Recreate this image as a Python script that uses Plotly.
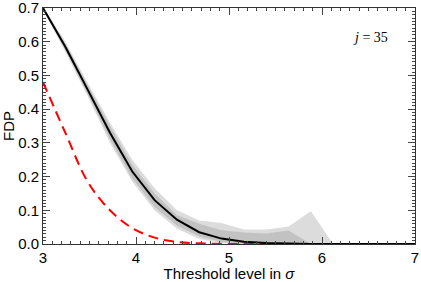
import plotly.graph_objects as go

thresholds = [3.00, 3.24, 3.48, 3.72, 3.96, 4.20, 4.44, 4.68, 4.92, 5.16, 5.40,
              5.64, 5.88, 6.12, 6.36, 6.60, 6.84, 7.00]
fdp_median = [0.700, 0.585, 0.458, 0.330, 0.215, 0.130, 0.072, 0.035, 0.016, 0.007,
              0.003, 0.001, 0.0, 0.0, 0.0, 0.0, 0.0, 0.0]
fdp_expected = [0.480, 0.330, 0.185, 0.100, 0.047, 0.019, 0.006, 0.002, 0.0005, 0.0,
                0.0, 0.0, 0.0, 0.0, 0.0, 0.0, 0.0, 0.0]
outer_hi = [0.705, 0.600, 0.478, 0.360, 0.250, 0.165, 0.100, 0.070, 0.062, 0.043,
            0.043, 0.052, 0.097, 0.0, 0.0, 0.0, 0.0, 0.0]
outer_lo = [0.695, 0.570, 0.438, 0.300, 0.185, 0.100, 0.045, 0.015, 0.003, 0.0,
            0.0, 0.0, 0.0, 0.0, 0.0, 0.0, 0.0, 0.0]
inner_hi = [0.702, 0.595, 0.471, 0.350, 0.235, 0.150, 0.085, 0.060, 0.041, 0.034,
            0.031, 0.040, 0.0, 0.0, 0.0, 0.0, 0.0, 0.0]
inner_lo = [0.698, 0.575, 0.445, 0.310, 0.195, 0.110, 0.055, 0.022, 0.006, 0.001,
            0.0, 0.0, 0.0, 0.0, 0.0, 0.0, 0.0, 0.0]

x_ticks = [3, 4, 5, 6, 7]
y_ticks = [0.0, 0.1, 0.2, 0.3, 0.4, 0.5, 0.6, 0.7]
y_tick_labels = ["0.0", "0.1", "0.2", "0.3", "0.4", "0.5", "0.6", "0.7"]

x_range = [3, 7]
y_range = [0, 0.7]

fig = go.Figure()

def band(lo, hi, color):
    fig.add_trace(go.Scatter(x=thresholds, y=lo, mode="lines", line=dict(width=0),
                             hoverinfo="skip", showlegend=False))
    fig.add_trace(go.Scatter(x=thresholds, y=hi, mode="lines", line=dict(width=0),
                             fill="tonexty", fillcolor=color, hoverinfo="skip",
                             showlegend=False))

band(outer_lo, outer_hi, "#dcdcdc")
band(inner_lo, inner_hi, "#c2c2c2")

fig.add_trace(go.Scatter(x=thresholds, y=fdp_expected, mode="lines",
                         line=dict(color="#ff0000", width=2, dash="10px,6px", shape="spline"),
                         showlegend=False))
fig.add_trace(go.Scatter(x=thresholds, y=fdp_median, mode="lines",
                         line=dict(color="black", width=2),
                         showlegend=False))
# invisible trace to carry the mirrored (top/right) axes
fig.add_trace(go.Scatter(x=x_range, y=y_range, mode="lines", line=dict(width=0),
                         xaxis="x2", yaxis="y2", hoverinfo="skip", showlegend=False))

fig.add_annotation(x=6.52, y=0.612, text="<i>j</i> = 35", showarrow=False,
                   font=dict(family="Liberation Serif", size=14, color="black"))

tickfont = dict(family="Liberation Sans", size=15, color="black")
axis_common = dict(showline=True, linecolor="#333333", linewidth=1,
                   ticks="inside", tickcolor="#444444", tickwidth=1, showgrid=False,
                   zeroline=False, automargin=False, tickfont=tickfont,
                   ticklabeloverflow="allow")

fig.update_layout(
    xaxis=dict(range=x_range, tickvals=x_ticks, ticklen=7,
               minor=dict(dtick=0.1, ticks="inside", ticklen=3, tickcolor="#444444"),
               title=dict(text="Threshold level in <i>σ</i>", standoff=2,
                          font=dict(family="Liberation Sans", size=15, color="black")),
               **axis_common),
    yaxis=dict(range=y_range, tickvals=y_ticks, ticktext=y_tick_labels, ticklen=7,
               minor=dict(dtick=0.01, ticks="inside", ticklen=3, tickcolor="#444444"),
               title=dict(text="FDP", standoff=4,
                          font=dict(family="Liberation Sans", size=15, color="black")),
               **axis_common),
    xaxis2=dict(range=x_range, tickvals=x_ticks, ticklen=7, overlaying="x", side="top",
                showticklabels=False, anchor="y2",
                minor=dict(dtick=0.1, ticks="inside", ticklen=3, tickcolor="#444444"),
                **axis_common),
    yaxis2=dict(range=y_range, tickvals=y_ticks, ticklen=7, overlaying="y", side="right",
                showticklabels=False, anchor="x2",
                minor=dict(dtick=0.01, ticks="inside", ticklen=3, tickcolor="#444444"),
                **axis_common),
    width=421, height=282, margin=dict(l=43, r=6, t=8, b=38),
    plot_bgcolor="white", paper_bgcolor="white", showlegend=False,
)

fig.write_html("out.html", config={"displayModeBar": False},
               post_script="document.body.style.margin='0px';")
